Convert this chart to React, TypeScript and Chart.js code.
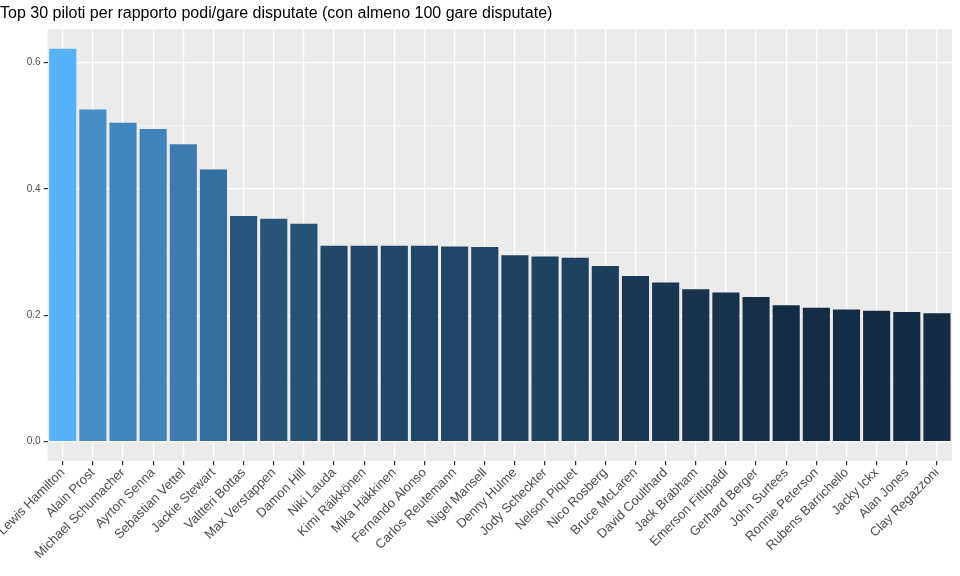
import React, { useEffect, useRef } from "react";
import { Chart, registerables } from "chart.js";
Chart.register(...registerables);

const drivers = ["Lewis Hamilton","Alain Prost","Michael Schumacher","Ayrton Senna","Sebastian Vettel","Jackie Stewart","Valtteri Bottas","Max Verstappen","Damon Hill","Niki Lauda","Kimi Räikkönen","Mika Häkkinen","Fernando Alonso","Carlos Reutemann","Nigel Mansell","Denny Hulme","Jody Scheckter","Nelson Piquet","Nico Rosberg","Bruce McLaren","David Coulthard","Jack Brabham","Emerson Fittipaldi","Gerhard Berger","John Surtees","Ronnie Peterson","Rubens Barrichello","Jacky Ickx","Alan Jones","Clay Regazzoni"];
const ratios = [0.622,0.526,0.505,0.495,0.471,0.431,0.357,0.353,0.345,0.310,0.310,0.310,0.310,0.309,0.308,0.295,0.293,0.291,0.278,0.262,0.252,0.241,0.236,0.229,0.216,0.212,0.209,0.207,0.205,0.203];
const yTicks = [0, 0.1, 0.2, 0.3, 0.4, 0.5, 0.6];

function colorFor(v: number) {
  const mn = Math.min(...ratios), mx = Math.max(...ratios);
  const t = (v - mn) / (mx - mn);
  const lo = [0x13, 0x2b, 0x43], hi = [0x56, 0xb1, 0xf7];
  const c = lo.map((l, i) => Math.round(l + (hi[i] - l) * Math.pow(t, 1.15)));
  return `rgb(${c[0]},${c[1]},${c[2]})`;
}

const bgPlugin = {
  id: "bg",
  beforeDraw(chart: any) {
    const { ctx, chartArea: a } = chart;
    ctx.save();
    ctx.fillStyle = "#EBEBEB";
    ctx.fillRect(a.left, a.top, a.right - a.left, a.bottom - a.top);
    ctx.restore();
  },
};

export default function App() {
  const ref = useRef<HTMLCanvasElement>(null);
  useEffect(() => {
    const chart = new Chart(ref.current!, {
      type: "bar",
      data: {
        labels: drivers,
        datasets: [{ data: ratios, backgroundColor: ratios.map(colorFor), categoryPercentage: 0.9, barPercentage: 1 }],
      },
      plugins: [bgPlugin],
      options: {
        animation: false,
        responsive: false,
        layout: { padding: { right: 8, left: 0, top: 0, bottom: 14 } },
        plugins: {
          legend: { display: false },
          tooltip: { enabled: false },
          title: {
            display: true, text: "Top 30 piloti per rapporto podi/gare disputate (con almeno 100 gare disputate)",
            align: "start", color: "#000", font: { family: "Arial", size: 16, weight: "normal" }, padding: { top: 4, bottom: 6 },
          },
        },
        scales: {
          x: {
            grid: { color: "#fff", lineWidth: 1.2, offset: false, drawTicks: true, tickColor: "#333", tickLength: 4 },
            border: { display: false },
            ticks: { minRotation: 45, maxRotation: 45, color: "#4D4D4D", font: { family: "Arial", size: 13 }, padding: 0 },
          },
          y: {
            min: -0.031, max: 0.653,
            afterBuildTicks: (s: any) => { s.ticks = yTicks.map((v) => ({ value: v })); },
            grid: {
              color: "#fff",
              lineWidth: (c: any) => (Math.round(c.tick.value * 10) % 2 === 0 ? 1.2 : 0.6),
              tickColor: (c: any) => (Math.round(c.tick.value * 10) % 2 === 0 ? "#333" : "rgba(0,0,0,0)"),
              tickLength: 4,
            },
            border: { display: false },
            ticks: {
              color: "#4D4D4D", font: { family: "Arial", size: 10 },
              callback: (v: any) => (Math.round(Number(v) * 10) % 2 === 0 ? Number(v).toFixed(1) : ""),
            },
          },
        },
      },
    });
    return () => chart.destroy();
  }, []);
  return (
    <div style={{ position: "absolute", left: 0, top: 0, width: 960, height: 576, background: "#fff" }}>
      <canvas ref={ref} width={960} height={576} />
    </div>
  );
}
